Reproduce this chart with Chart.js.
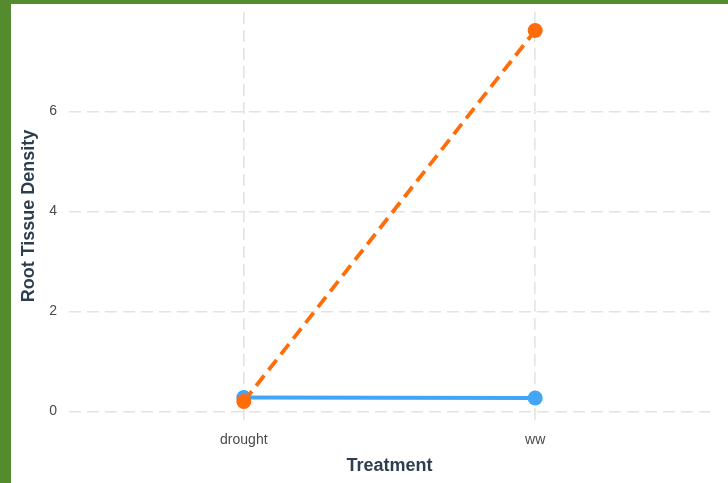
<!DOCTYPE html>
<html>
<head>
<meta charset="utf-8">
<script src="https://cdn.jsdelivr.net/npm/chart.js@4.4.1/dist/chart.umd.min.js"></script>
<style>
  html, body { margin: 0; padding: 0; background: #558b2f; width: 728px; height: 483px; overflow: hidden; }
  #wrap { position: absolute; left: 11px; top: 4px; width: 717px; height: 479px; background: #ffffff; }
  canvas { display: block; }
</style>
</head>
<body>
<div id="wrap"><canvas id="c" width="717" height="479"></canvas></div>
<script>
const categories = ["drought", "ww"];
const seriesNames = ["Series A", "Series B"];
const seriesA = [0.28, 0.27];   // blue, solid
const seriesB = [0.20, 7.62];   // orange, dashed
const yTicks = [0, 2, 4, 6];

const toPoints = vals => vals.map((v, i) => ({ x: i + 1, y: v }));

const gridStyle = {
  color: '#e3e3e3',
  lineWidth: 1.6,
  drawTicks: false,
};

new Chart(document.getElementById('c'), {
  type: 'line',
  data: {
    datasets: [
      {
        label: seriesNames[1],
        data: toPoints(seriesB),
        borderColor: '#ff6d0a',
        backgroundColor: '#ff6d0a',
        borderWidth: 3.8,
        borderDash: [13, 7],
        pointRadius: 7.5,
        pointBorderWidth: 0,
        order: 0,
      },
      {
        label: seriesNames[0],
        data: toPoints(seriesA),
        borderColor: '#42a5f5',
        backgroundColor: '#42a5f5',
        borderWidth: 3.8,
        pointRadius: 7.5,
        pointBorderWidth: 0,
        order: 1,
      },
    ],
  },
  options: {
    responsive: false,
    animation: false,
    layout: { padding: { top: 8, right: 18, left: 0, bottom: 0 } },
    plugins: { legend: { display: false }, tooltip: { enabled: false } },
    scales: {
      x: {
        type: 'linear',
        min: 0.4,
        max: 2.6,
        border: { display: false, dash: [12, 6] },
        grid: gridStyle,
        afterBuildTicks: s => { s.ticks = categories.map((c, i) => ({ value: i + 1 })); },
        afterFit: s => { s.height = 63; s.paddingLeft = 0; s.paddingRight = 0; },
        ticks: {
          padding: 12,
          color: '#4a4a4a',
          font: { family: 'Liberation Sans, Arial, sans-serif', size: 14 },
          callback: v => categories[v - 1] ?? '',
        },
        title: {
          display: true,
          text: 'Treatment',
          color: '#2c3e50',
          font: { family: 'Liberation Sans, Arial, sans-serif', size: 18, weight: 'bold' },
          padding: { top: 0, bottom: 6 },
        },
      },
      y: {
        type: 'linear',
        min: -0.17,
        max: 7.99,
        border: { display: false, dash: [12, 6] },
        grid: gridStyle,
        afterBuildTicks: s => { s.ticks = yTicks.map(v => ({ value: v })); },
        afterFit: s => { s.width = 58; s.paddingTop = 0; s.paddingBottom = 0; },
        ticks: {
          padding: 12,
          color: '#4a4a4a',
          font: { family: 'Liberation Sans, Arial, sans-serif', size: 14 },
        },
        title: {
          display: true,
          text: 'Root Tissue Density',
          color: '#2c3e50',
          font: { family: 'Liberation Sans, Arial, sans-serif', size: 18, weight: 'bold' },
          padding: { top: 7, bottom: 0 },
        },
      },
    },
  },
});
</script>
</body>
</html>
